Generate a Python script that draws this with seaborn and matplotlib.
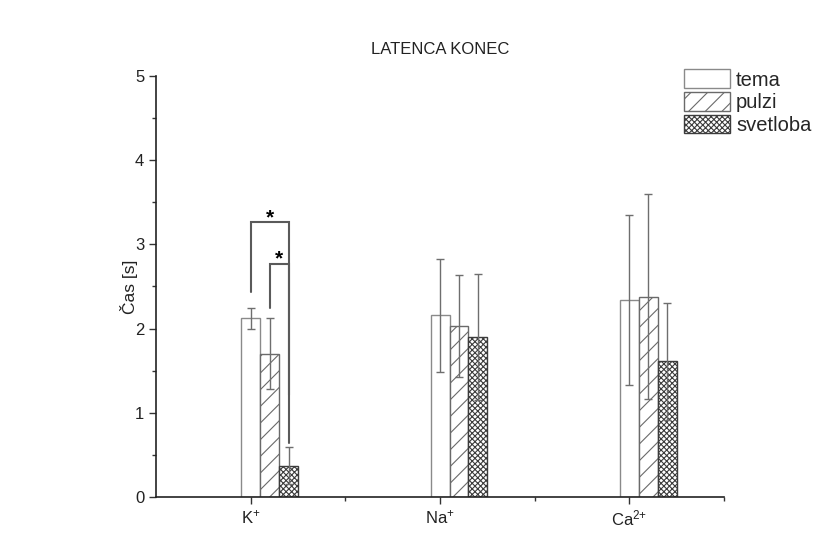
import numpy as np
import pandas as pd
import matplotlib
matplotlib.use("Agg")
import matplotlib.pyplot as plt
import seaborn as sns

# values
ions = ["K", "Na", "Ca"]
ion_labels = ["K$^{+}$", "Na$^{+}$", "Ca$^{2{+}}$"]
groups = ["tema", "pulzi", "svetloba"]
tema = [2.12, 2.16, 2.34]
tema_err = [0.12, 0.67, 1.01]
pulzi = [1.70, 2.03, 2.38]
pulzi_err = [0.42, 0.61, 1.22]
svetloba = [0.37, 1.90, 1.61]
svetloba_err = [0.22, 0.75, 0.69]

# significance brackets on K+: (from group, to group, left leg end, top, right leg end)
sig = [("tema", "svetloba", 2.44, 3.26, 0.64),
       ("pulzi", "svetloba", 2.24, 2.77, 1.21)]

df = pd.DataFrame({
    "ion": ions * 3,
    "group": [g for g in groups for _ in ions],
    "cas": tema + pulzi + svetloba,
})
errs = {"tema": tema_err, "pulzi": pulzi_err, "svetloba": svetloba_err}

sns.set_style("ticks")
plt.rcParams["font.family"] = ["Liberation Sans", "DejaVu Sans"]
plt.rcParams["mathtext.fontset"] = "custom"
plt.rcParams["mathtext.rm"] = "Liberation Sans"
plt.rcParams["mathtext.default"] = "regular"
plt.rcParams["hatch.linewidth"] = 0.8

fig = plt.figure(figsize=(8.26, 5.37), dpi=100)
ax = fig.add_axes([0.189, 0.0745, 0.6875, 0.784])

sns.barplot(data=df, x="ion", y="cas", hue="group", order=ions, hue_order=groups,
            width=0.3, errorbar=None, ax=ax, legend=False)

styles = {
    "tema": dict(fc="white", ec="#8a8a8a", hatch=None),
    "pulzi": dict(fc="white", ec="#6a6a6a", hatch="//"),
    "svetloba": dict(fc="white", ec="#3c3c3c", hatch="xxxxxx"),
}
centers = {}
for g, cont in zip(groups, ax.containers):
    st = styles[g]
    xs = []
    for p in cont.patches:
        p.set_facecolor(st["fc"])
        p.set_edgecolor(st["ec"])
        p.set_linewidth(1.0)
        if st["hatch"]:
            p.set_hatch(st["hatch"])
        p.set_label(g)
        xs.append(p.get_x() + p.get_width() / 2)
    centers[g] = xs
    vals = df[df.group == g]["cas"].values
    ax.errorbar(xs, vals, yerr=errs[g], fmt="none", ecolor="#6e6e6e",
                elinewidth=1.0, capsize=3, capthick=1.0, zorder=3)

# brackets
for a, b, ya, ytop, yb in sig:
    xa, xb = centers[a][0], centers[b][0]
    ax.plot([xa, xa, xb, xb], [ya, ytop, ytop, yb], color="#5a5a5a", lw=1.5,
            solid_joinstyle="miter", zorder=4)
    ax.text((xa + xb) / 2, ytop - 0.06, "*", ha="center", va="bottom",
            fontsize=15, fontweight="bold", color="black")

tema_x = centers["tema"]
step = tema_x[1] - tema_x[0]
ax.set_xlim(tema_x[0] - step / 2, tema_x[-1] + step / 2)
ax.set_xticks(tema_x)
ax.set_xticklabels(ion_labels, fontsize=12)
ax.set_xticks([x + step / 2 for x in tema_x], minor=True)
ax.set_ylim(0, 5)
ax.set_yticks(np.arange(0, 6, 1))
ax.set_yticklabels([str(v) for v in range(6)], fontsize=12)
ax.set_yticks(np.arange(0.5, 5, 1), minor=True)
ax.tick_params(axis="both", which="major", length=5, width=1,
               color="#333333", labelcolor="#222222")
ax.tick_params(axis="both", which="minor", length=3, width=1, color="#333333")
ax.set_xlabel("")
ax.set_ylabel("Čas [s]", fontsize=12.5, labelpad=-2, color="#222222")
ax.set_title("LATENCA KONEC", fontsize=12, pad=16, color="#222222")
for s in ["left", "bottom"]:
    ax.spines[s].set_linewidth(1.2)
    ax.spines[s].set_color("#222222")
sns.despine(ax=ax)

handles = [ax.containers[i].patches[0] for i in range(3)]
ax.legend(handles, groups, loc="upper right", bbox_to_anchor=(1.168, 1.035),
          frameon=False, fontsize=14.5, handlelength=2.3, handleheight=1.05,
          labelspacing=0.12, handletextpad=0.3, borderaxespad=0)

fig.savefig("out.png", dpi=100)
